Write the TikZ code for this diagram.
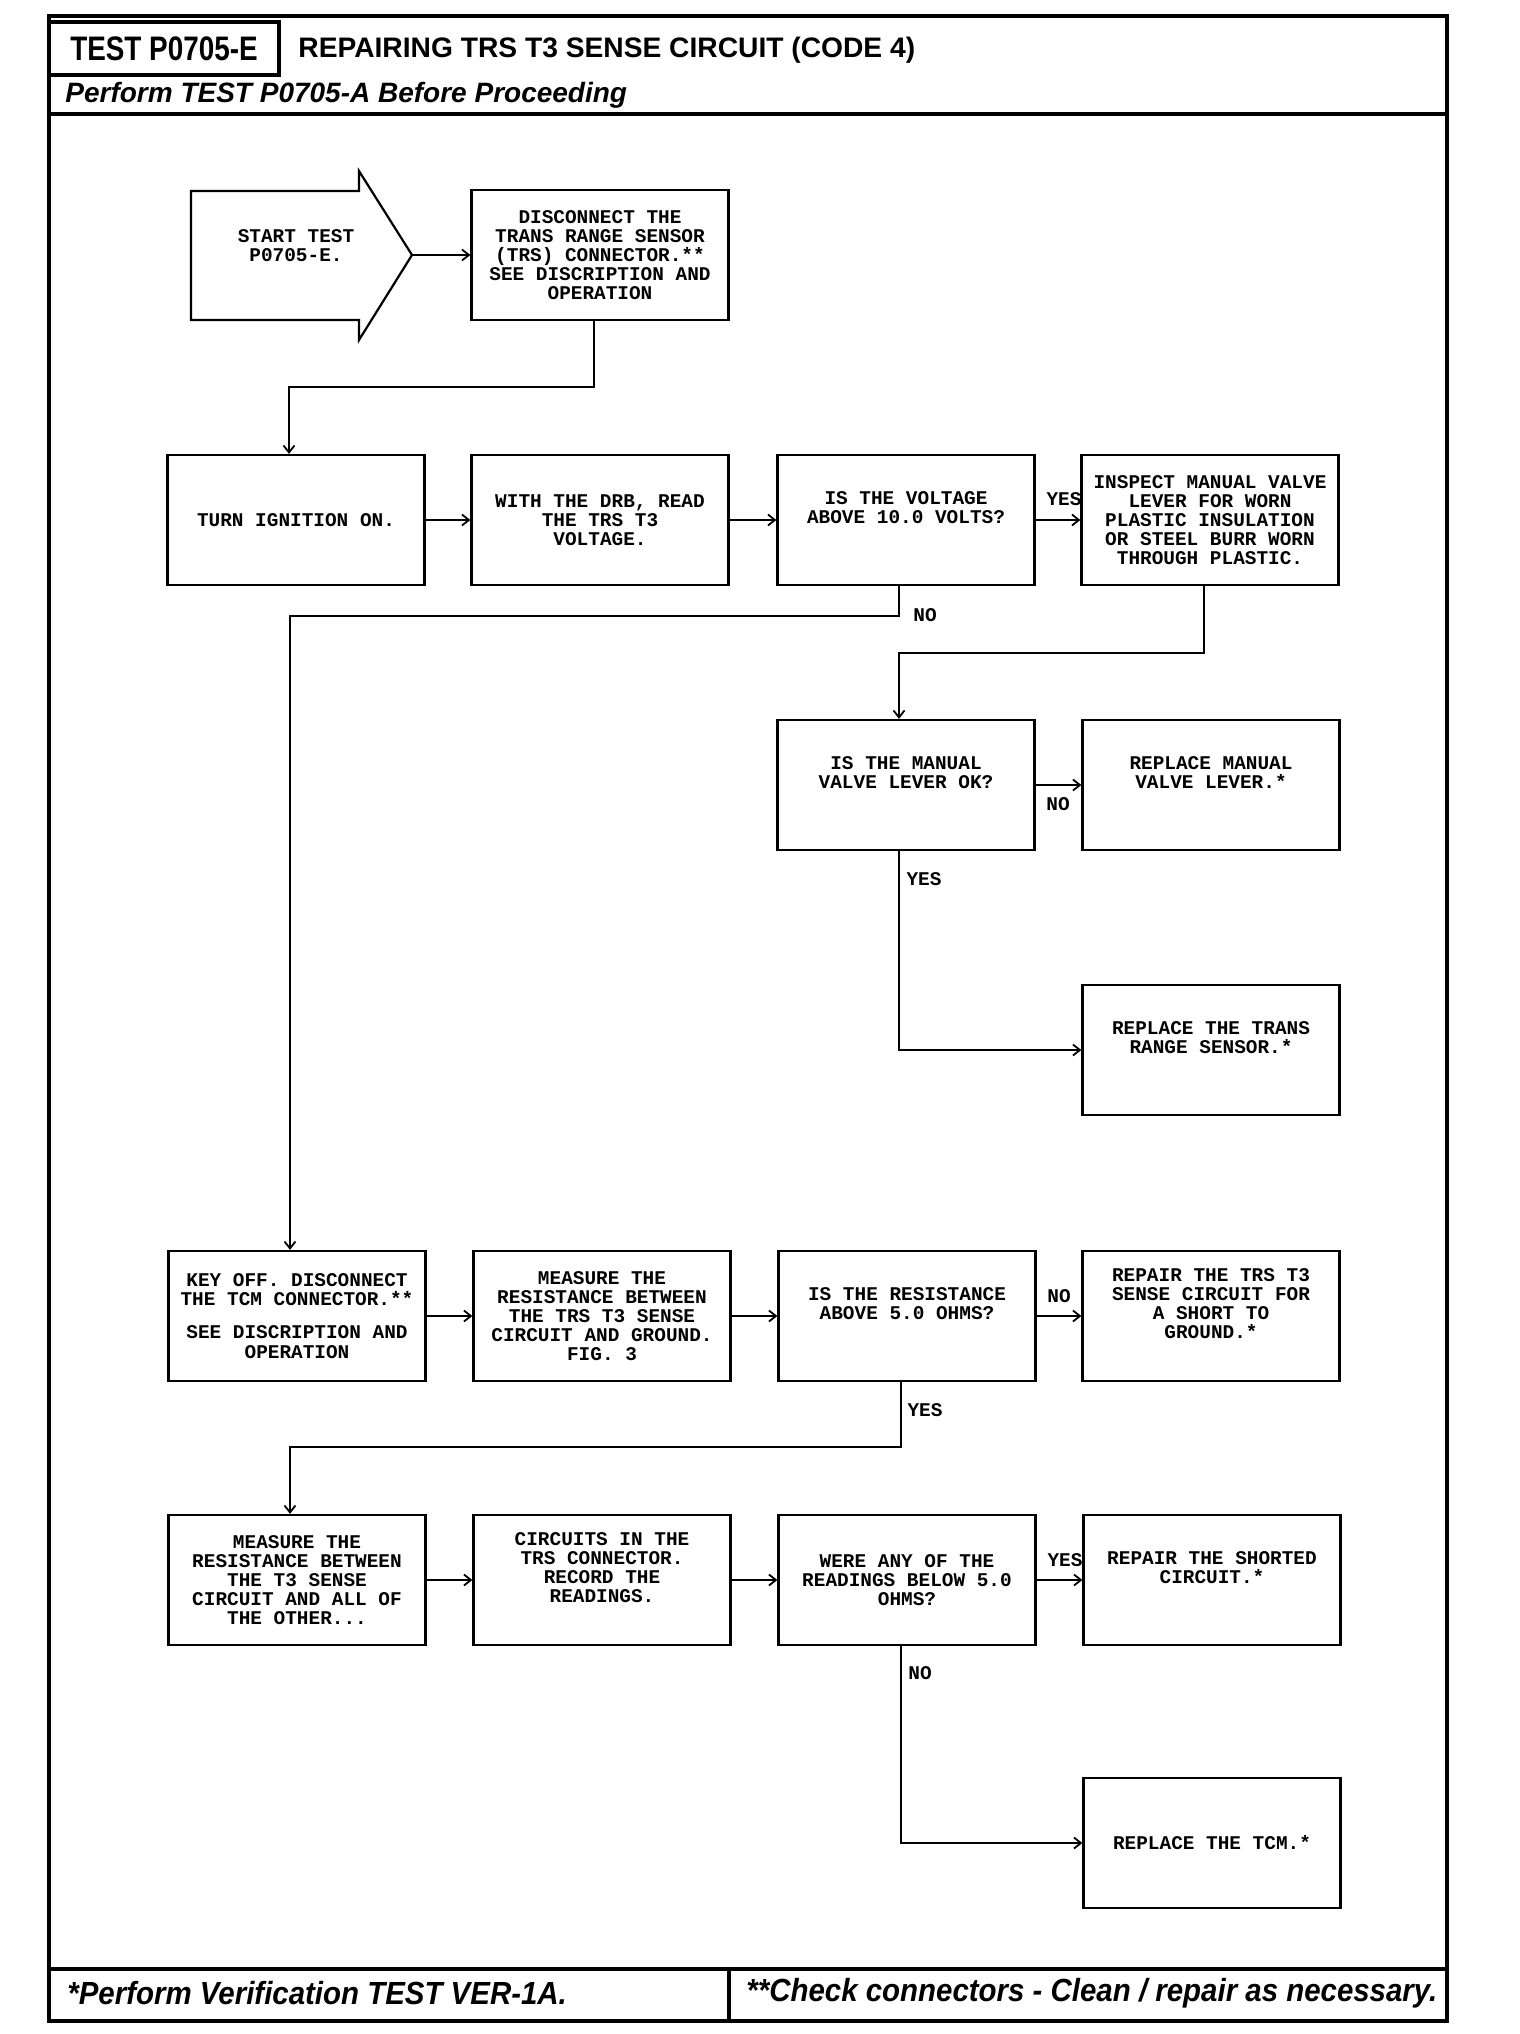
\documentclass[tikz,border=0pt]{standalone}
\usepackage{fontspec}
\usetikzlibrary{arrows.meta}
\newfontfamily\boxfont{Liberation Mono}
\newfontfamily\headfont[FakeStretch=0.82]{Liberation Sans}
\newfontfamily\titlefont{Liberation Sans}
\newfontfamily\footfont[FakeStretch=0.92]{Liberation Sans}
\begin{document}
\begin{tikzpicture}[x=0.5pt,y=-0.5pt,
  box/.style={draw, line width=1.1pt, minimum width=128.5pt, minimum height=65pt, align=center, inner sep=0pt, font=\boxfont\bfseries\fontsize{9.7}{9.55}\selectfont},
  arr/.style={line width=0.9pt, -{Straight Barb[length=3.5pt,width=5.5pt,line width=0.9pt]}},
  lbl/.style={inner sep=0pt, font=\boxfont\bfseries\fontsize{9.7}{9.55}\selectfont},
  frame/.style={line width=1.8pt}]
\fill[white] (0,0) rectangle (1520,2034);
\useasboundingbox (0,0) rectangle (1520,2034);
% frame
\draw[frame] (49,16) rectangle (1447,2021);
\draw[frame] (49,114) -- (1447,114);
\draw[frame] (49,1969) -- (1447,1969);
\draw[frame] (729,1969) -- (729,2021);
\node[draw, line width=1.6pt, minimum width=115pt, minimum height=26.5pt, inner sep=0pt,
  font=\headfont\bfseries\fontsize{17}{17}\selectfont] (testid) at (164,48.5) {TEST P0705-E};
\node[anchor=west, inner sep=0pt, font=\titlefont\bfseries\fontsize{14.1}{14}\selectfont] (title) at (298,50) {REPAIRING TRS T3 SENSE CIRCUIT (CODE 4)};
\node[anchor=west, inner sep=0pt, font=\titlefont\bfseries\itshape\fontsize{14}{14}\selectfont] (pre) at (65,95) {Perform TEST P0705-A Before Proceeding};
\node[anchor=west, inner sep=0pt, font=\footfont\bfseries\itshape\fontsize{16}{16}\selectfont] (f1) at (67,1993) {*Perform Verification TEST VER-1A.};
\node[anchor=west, inner sep=0pt, font=\footfont\bfseries\itshape\fontsize{16}{16}\selectfont] (f2) at (746,1993) {**Check connectors - Clean / repair as necessary.};
% start arrow
\draw[line width=1.1pt] (191,191) -- (359,191) -- (359,171) -- (412,255) -- (359,340) -- (359,320) -- (191,320) -- cycle;
\node[lbl, align=center] (start) at (296,246) {START TEST\\P0705-E.};
\coordinate (starttip) at (412,255);
% boxes
\node[box] (disc) at (600,255) {DISCONNECT THE\\TRANS RANGE SENSOR\\(TRS) CONNECTOR.**\\SEE DISCRIPTION AND\\OPERATION};
\node[box] (turn) at (296,520) {TURN IGNITION ON.};
\node[box] (with) at (600,520) {WITH THE DRB, READ\\THE TRS T3\\VOLTAGE.};
\node[box] (isv) at (906,520) {IS THE VOLTAGE\\ABOVE 10.0 VOLTS?\\\strut};
\node[box] (insp) at (1210,520) {INSPECT MANUAL VALVE\\LEVER FOR WORN\\PLASTIC INSULATION\\OR STEEL BURR WORN\\THROUGH PLASTIC.};
\node[box] (ism) at (906,785) {IS THE MANUAL\\VALVE LEVER OK?\\\strut};
\node[box] (repm) at (1211,785) {REPLACE MANUAL\\VALVE LEVER.*\\\strut};
\node[box] (rept) at (1211,1050) {REPLACE THE TRANS\\RANGE SENSOR.*\\\strut};
\node[box] (key) at (297,1316) {KEY OFF. DISCONNECT\\THE TCM CONNECTOR.**\\[7pt]SEE DISCRIPTION AND\\OPERATION};
\node[box] (meas) at (602,1316) {MEASURE THE\\RESISTANCE BETWEEN\\THE TRS T3 SENSE\\CIRCUIT AND GROUND.\\FIG. 3};
\node[box] (isr) at (907,1316) {IS THE RESISTANCE\\ABOVE 5.0 OHMS?\\\strut};
\node[box] (reps) at (1211,1316) {REPAIR THE TRS T3\\SENSE CIRCUIT FOR\\A SHORT TO\\GROUND.*\\\strut};
\node[box] (mt3) at (297,1580) {MEASURE THE\\RESISTANCE BETWEEN\\THE T3 SENSE\\CIRCUIT AND ALL OF\\THE OTHER...};
\node[box] (circ) at (602,1580) {CIRCUITS IN THE\\TRS CONNECTOR.\\RECORD THE\\READINGS.\\\strut};
\node[box] (were) at (907,1580) {WERE ANY OF THE\\READINGS BELOW 5.0\\OHMS?};
\node[box] (rsh) at (1212,1580) {REPAIR THE SHORTED\\CIRCUIT.*\\\strut};
\node[box] (tcm) at (1212,1843) {REPLACE THE TCM.*};
% connectors
\draw[arr] (starttip) -- (disc);
\draw[arr] ([xshift=-3pt]disc.south) -- ++(0,66) -| ([xshift=-3.5pt]turn.north);
\draw[arr] (turn) -- (with);
\draw[arr] (with) -- (isv);
\draw[arr] (isv) -- (insp);
\draw[arr] ([xshift=-3.5pt]isv.south) -- ++(0,30) -| ([xshift=-3.5pt]key.north);
\draw[arr] ([xshift=-3pt]insp.south) -- ++(0,67) -| ([xshift=-3.5pt]ism.north);
\draw[arr] (ism) -- (repm);
\draw[arr] ([xshift=-3.5pt]ism.south) |- (rept.west);
\draw[arr] (key) -- (meas);
\draw[arr] (meas) -- (isr);
\draw[arr] (isr) -- (reps);
\draw[arr] ([xshift=-3pt]isr.south) -- ++(0,65) -| ([xshift=-3.5pt]mt3.north);
\draw[arr] (mt3) -- (circ);
\draw[arr] (circ) -- (were);
\draw[arr] (were) -- (rsh);
\draw[arr] ([xshift=-3pt]were.south) |- (tcm.west);
% labels
\node[lbl] (l1) at (1064,499) {YES};
\node[lbl] (l2) at (925,615) {NO};
\node[lbl] (l3) at (1058,804) {NO};
\node[lbl] (l4) at (924,879) {YES};
\node[lbl] (l5) at (1059,1296) {NO};
\node[lbl] (l6) at (925,1410) {YES};
\node[lbl] (l7) at (1065,1560) {YES};
\node[lbl] (l8) at (920,1673) {NO};
\end{tikzpicture}
\end{document}
